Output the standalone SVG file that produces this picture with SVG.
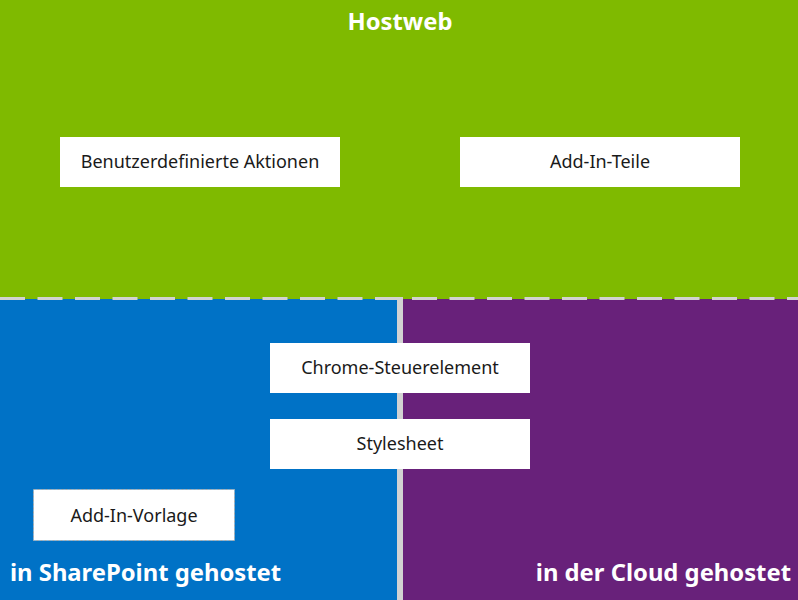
<svg xmlns="http://www.w3.org/2000/svg" width="798" height="600" viewBox="0 0 798 600">
<style>
.box{fill:#fff}
.lbl{font-family:"Segoe UI","Noto Sans","Open Sans",sans-serif;font-size:18px;fill:#1a1a1a;text-anchor:middle;dominant-baseline:central}
.title{font-family:"Segoe UI","Noto Sans","Open Sans",sans-serif;font-size:23.8px;font-weight:bold;fill:#fff}
</style>
<rect x="0" y="0" width="798" height="600" fill="#d2d2d2"/>
<g id="hostweb">
<rect x="0" y="0" width="798" height="299" fill="#7fba00"/>
<text class="title" x="400" y="30" text-anchor="middle">Hostweb</text>
</g>
<g id="sharepoint">
<rect x="0" y="299" width="397" height="301" fill="#0072c6"/>
<text class="title" x="10" y="581">in SharePoint gehostet</text>
</g>
<g id="cloud">
<rect x="403" y="299" width="395" height="301" fill="#68217a"/>
<text class="title" x="791" y="581" text-anchor="end">in der Cloud gehostet</text>
</g>
<g id="connectors">
<line x1="0" y1="298.5" x2="397" y2="298.5" stroke="#d2d2d2" stroke-width="3" stroke-dasharray="25 12.5"/>
<line x1="397" y1="298.5" x2="403" y2="298.5" stroke="#d2d2d2" stroke-width="3"/>
<line x1="412" y1="298.5" x2="798" y2="298.5" stroke="#d2d2d2" stroke-width="3" stroke-dasharray="25 12.5"/>
</g>
<g id="benutzerdefinierte-aktionen">
<rect class="box" x="60" y="137" width="280" height="50"/>
<text class="lbl" x="200" y="161">Benutzerdefinierte Aktionen</text>
</g>
<g id="add-in-teile">
<rect class="box" x="460" y="137" width="280" height="50"/>
<text class="lbl" x="600" y="161">Add-In-Teile</text>
</g>
<g id="chrome-steuerelement">
<rect class="box" x="270" y="343" width="260" height="50"/>
<text class="lbl" x="400" y="367">Chrome-Steuerelement</text>
</g>
<g id="stylesheet">
<rect class="box" x="270" y="419" width="260" height="50"/>
<text class="lbl" x="400" y="443">Stylesheet</text>
</g>
<g id="add-in-vorlage">
<rect class="box" x="33.5" y="489.5" width="201" height="51" stroke="#aaaaaa" stroke-width="1" stroke-dasharray="2 2"/>
<text class="lbl" x="134" y="515">Add-In-Vorlage</text>
</g>
</svg>
